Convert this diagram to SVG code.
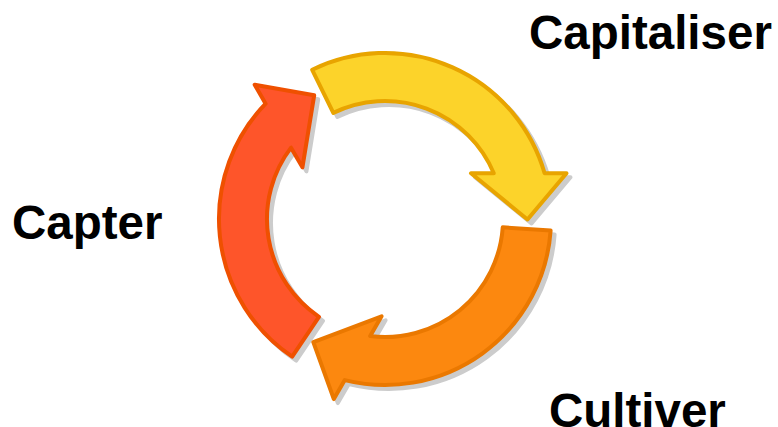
<svg xmlns="http://www.w3.org/2000/svg" xmlns:xlink="http://www.w3.org/1999/xlink" width="778" height="427" viewBox="0 0 778 427">
  <style>
    .label { font-family: "Liberation Sans", Arial, sans-serif; font-weight: bold; font-size: 47.5px; fill: #000000; }
    .shadow { fill: #cccccc; stroke: #cccccc; stroke-width: 4; stroke-linejoin: round; }
    .arrow { stroke-width: 4; stroke-linejoin: round; }
  </style>
  <defs>
    <path id="arc" d="M -72.8,-149.2 A 166 166 0 0 1 159.6,-45.7 L 181.5,-45.7 L 142.5,0.5 L 86,-45.7 L 108.8,-45.7 A 118 118 0 0 0 -51.7,-106.1 Z"/>
  </defs>
  <rect width="778" height="427" fill="#ffffff"/>

  <g id="connectors">
    <g id="shadows">
      <use xlink:href="#arc" href="#arc" class="shadow" transform="translate(389,223)"/>
      <use xlink:href="#arc" href="#arc" class="shadow" transform="translate(389,223) rotate(120)"/>
      <use xlink:href="#arc" href="#arc" class="shadow" transform="translate(389,223) rotate(240)"/>
    </g>
    <use id="arrow-capitaliser" xlink:href="#arc" href="#arc" class="arrow" fill="#fcd32a" stroke="#e8a400" transform="translate(385,219)"/>
    <use id="arrow-cultiver" xlink:href="#arc" href="#arc" class="arrow" fill="#fc880f" stroke="#ea7800" transform="translate(385,219) rotate(120)"/>
    <use id="arrow-capter" xlink:href="#arc" href="#arc" class="arrow" fill="#fe552a" stroke="#ef5000" transform="translate(385,219) rotate(240)"/>
  </g>

  <g id="node-capitaliser">
    <text class="label" x="529" y="49">Capitaliser</text>
  </g>
  <g id="node-capter">
    <text class="label" x="12" y="239">Capter</text>
  </g>
  <g id="node-cultiver">
    <text class="label" x="549" y="427">Cultiver</text>
  </g>
</svg>
